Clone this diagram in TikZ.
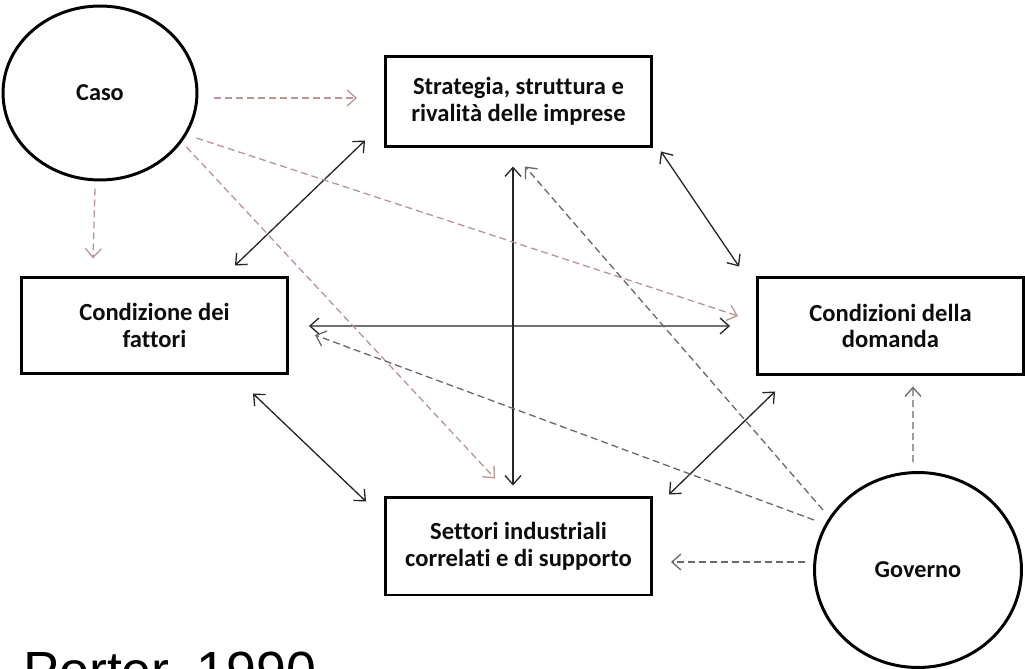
\documentclass[tikz,border=0pt]{standalone}
\usepackage{fontspec}
\setmainfont{Carlito}[Ligatures=NoCommon]
\newfontfamily\sourcefont{Liberation Sans}
\usetikzlibrary{shapes.geometric, calc, arrows.meta}
\definecolor{casogrey}{RGB}{185,150,150}
\definecolor{govgrey}{RGB}{105,105,105}

\begin{document}
\begin{tikzpicture}[
    x=0.02cm, y=-0.02cm,
    >={Straight Barb[length=1.8mm, width=3.2mm]},
    every edge/.style={draw, line width=0.75pt},
    link/.style={draw=black!85},
    casoarrow/.style={draw=casogrey, dash pattern=on 1.4mm off 0.8mm},
    govarrow/.style={draw=govgrey, dash pattern=on 1.4mm off 0.8mm},
    fattore/.style={draw, line width=1.7pt, align=center, inner sep=0pt, text=black!95,
        font=\bfseries\fontsize{14}{15.3}\selectfont, minimum width=5.32cm, minimum height=1.94cm},
    evento/.style={ellipse, draw, line width=1.7pt, inner sep=0pt, text=black!95,
        font=\bfseries\fontsize{13.8}{15}\selectfont}]

    \useasboundingbox (0,0) rectangle (1025,669);

    \node at (100,93)[evento, minimum width=3.88cm, minimum height=3.48cm] (caso) {Caso};
    \node at (918,570)[evento, minimum width=4.14cm, minimum height=3.9cm] (gov) {Governo};

    \node at (518.5,101.5)[fattore, minimum height=1.82cm] (strat) {Strategia, struttura e \\ rivalità delle imprese};
    \node at (154.5,325.5)[fattore] (fatt) {Condizione dei \\ fattori};
    \node at (890.5,326)[fattore, minimum height=1.96cm] (dom) {Condizioni della \\ domanda};
    \node at (518.5,546)[fattore, minimum height=1.96cm] (sett) {Settori industriali \\ correlati e di supporto};

    \node at (23,689)[anchor=base west, inner sep=0pt, font=\sourcefont\fontsize{30.6}{36}\selectfont] (fonte) {Porter, 1990};

    %%% Relations between the four determinants
    \path ($(strat.south west)+(-19,-8)$) edge [<->, link] ($(fatt.north east)+(-54,-10)$);
    \path ($(strat.south east)+(8,3)$) edge [<->, link] ($(dom.north west)+(-17,-9)$);
    \path ($(strat.south)+(-5.5,18)$) edge [<->, link] ($(sett.north)+(-5.5,-10)$);
    \path ($(fatt.east)+(20,0.5)$) edge [<->, link] ($(dom.west)+(-26,0)$);
    \path ($(fatt.south east)+(-36,18)$) edge [<->, link] ($(sett.north west)+(-18,6)$);
    \path ($(dom.south west)+(19,15)$) edge [<->, link] ($(sett.north east)+(16,-1)$);

    %%% Influence of chance
    \path ($(caso.east)+(16,5)$) edge [->, casoarrow] ($(strat.west)+(-27,-3.5)$);
    \path ($(caso.south)+(-5,7)$) edge [->, casoarrow] ($(fatt.north west)+(73,-17)$);
    \path ($(caso.east)+(-2,45)$) edge [->, casoarrow] ($(dom.west)+(-18,-10)$);
    \path ($(caso.east)+(-12,54)$) edge [->, casoarrow] ($(sett.north)+(-23.5,-17)$);

    %%% Influence of government
    \path ($(gov.north)+(-5,-9)$) edge [->, govarrow] ($(dom.south)+(22.5,10)$);
    \path ($(gov.west)+(-8,-8)$) edge [->, govarrow] ($(sett.east)+(18,16)$);
    \path ($(gov.west)+(10,-60)$) edge [->, govarrow] ($(strat.south)+(6.5,18)$);
    \path ($(gov.west)+(1,-50)$) edge [->, govarrow] ($(fatt.east)+(26,9.5)$);

\end{tikzpicture}
\end{document}
